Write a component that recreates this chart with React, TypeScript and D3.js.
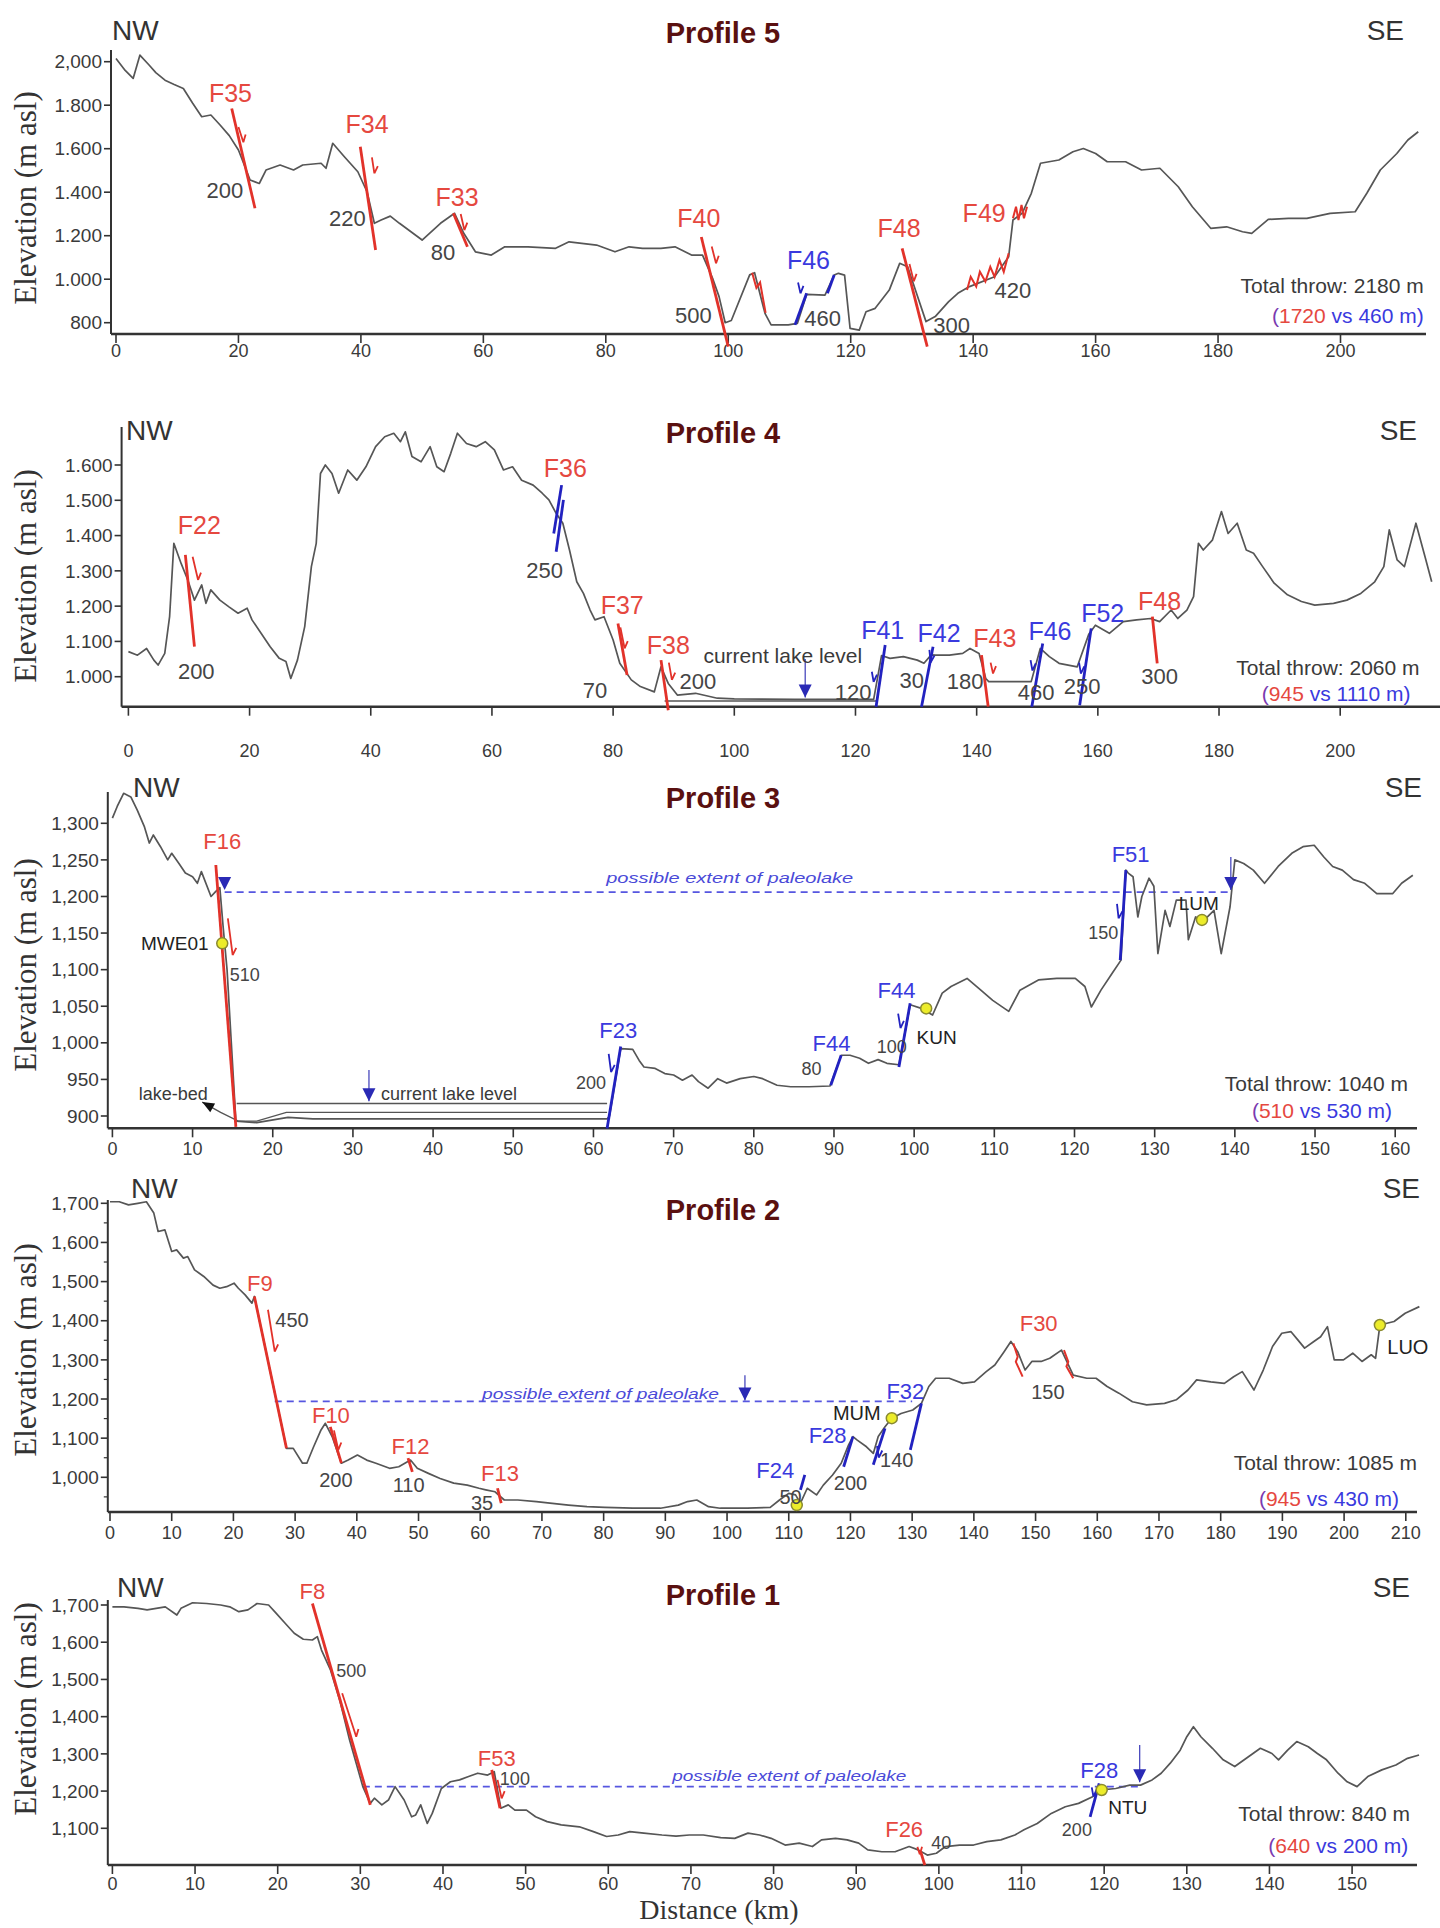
import React from "react";
import * as d3 from "d3";

type Pt = [number, number];
type Fault = { c: "r" | "b"; line?: number[]; zig?: Pt[]; arrow?: number[] };
type Lab = { t: string; d: number; e: number; k: string; a?: "start" | "middle" | "end" };

// ---------------- Profile 5 ----------------
const p5Profile: Pt[] = [
  [0, 2015], [1.5, 1960], [2.8, 1923], [3.9, 2030], [5.4, 1985], [6.5, 1950], [8, 1915], [9.5, 1895], [11, 1877],
  [12.5, 1810], [14, 1747], [15.5, 1755], [17, 1709], [18.5, 1660], [20, 1594], [21.9, 1456], [23.4, 1440],
  [24.5, 1502], [26.8, 1525], [29, 1502], [30.5, 1525], [33.5, 1533], [34.3, 1510], [35.4, 1625], [37.3, 1563],
  [39.5, 1494], [41, 1402], [42.2, 1257], [43.3, 1272], [44.8, 1290], [46.3, 1257], [50, 1180], [53, 1257],
  [55.3, 1303], [56.8, 1211], [58.7, 1126], [61.3, 1111], [63.5, 1149], [67.3, 1149], [71.8, 1142], [74, 1172],
  [78.5, 1157], [81.5, 1126], [83.8, 1149], [86, 1142], [89, 1142], [91.3, 1149], [94, 1111], [95.8, 1111],
  [97.5, 1000], [98.5, 920], [99.5, 800], [100.5, 810], [103.5, 1020], [104.3, 1030], [106, 843], [107, 790],
  [109.8, 790], [111.3, 797], [112.8, 930], [115.8, 927], [117.3, 1019], [118, 1027], [119, 1019], [119.9, 774],
  [121.4, 766], [122.5, 850], [124, 866], [126.3, 950], [128, 1073], [129.3, 1057], [132.3, 805], [133.8, 828],
  [136, 897], [137.5, 935], [139.4, 966], [143.5, 1011], [145.8, 1103], [146.5, 1272], [148, 1303], [149.5, 1395],
  [151, 1533], [154, 1548], [156.3, 1586], [158, 1601], [160, 1578], [161.9, 1540], [164.9, 1540], [167.5, 1502],
  [170.5, 1510], [173.5, 1425], [175.8, 1333], [178.8, 1234], [181.4, 1241], [184, 1218], [185.5, 1211],
  [188.2, 1275], [191.5, 1280], [194.5, 1280], [198.3, 1303], [202.4, 1310], [204.3, 1395], [206.5, 1502],
  [209.2, 1578], [211, 1640], [212.7, 1678],
];
const p5Faults: Fault[] = [
  { c: "r", line: [18.9, 1785, 22.7, 1326], arrow: [20.0, 1700, 20.8, 1630] },
  { c: "r", line: [39.9, 1609, 42.4, 1134], arrow: [41.8, 1560, 42.2, 1487] },
  { c: "r", line: [55.1, 1303, 57.4, 1149], arrow: [56.3, 1300, 56.9, 1226] },
  { c: "r", line: [95.6, 1194, 100, 690], arrow: [97.3, 1150, 98, 1073] },
  { c: "r", zig: [[103.9, 1030], [104.6, 960], [105.2, 985], [106.1, 845]] },
  { c: "b", line: [110.9, 790, 112.8, 935], arrow: [111.4, 985, 111.8, 935] },
  { c: "b", line: [116.2, 935, 117.3, 1019] },
  { c: "r", line: [128.4, 1142, 132.5, 690], arrow: [129.6, 1070, 130.3, 990] },
  { c: "r", zig: [[139.0, 950], [139.6, 1011], [140.5, 966], [141.1, 1034], [142, 989], [142.8, 1057], [143.5, 1011], [144.3, 1088], [145, 1034], [145.8, 1119]] },
  { c: "r", zig: [[146.5, 1280], [147, 1333], [147.4, 1272], [147.9, 1341], [148.3, 1280], [148.8, 1333]] },
];
const p5Labels: Lab[] = [
  { t: "F35", d: 18.7, e: 1857, k: "fr" }, { t: "200", d: 17.8, e: 1410, k: "n" },
  { t: "F34", d: 41, e: 1713, k: "fr" }, { t: "220", d: 37.8, e: 1280, k: "n" },
  { t: "F33", d: 55.7, e: 1376, k: "fr" }, { t: "80", d: 53.4, e: 1123, k: "n" },
  { t: "F40", d: 95.2, e: 1280, k: "fr" }, { t: "500", d: 94.3, e: 835, k: "n" },
  { t: "F46", d: 113.1, e: 1088, k: "fb" }, { t: "460", d: 115.4, e: 820, k: "n" },
  { t: "F48", d: 127.9, e: 1234, k: "fr" }, { t: "300", d: 136.5, e: 789, k: "n" },
  { t: "F49", d: 141.8, e: 1303, k: "fr" }, { t: "420", d: 146.5, e: 950, k: "n" },
];
const p5Throw = ["2180", "1720", "460"];
const p5XTicks = [0, 20, 40, 60, 80, 100, 120, 140, 160, 180, 200];
const p5YTicks = [800, 1000, 1200, 1400, 1600, 1800, 2000];
const p5YTickLabels = ["800", "1.000", "1.200", "1.400", "1.600", "1.800", "2,000"];

// ---------------- Profile 4 ----------------
const p4Profile: Pt[] = [
  [0, 1071], [1.5, 1061], [3, 1080], [4.2, 1047], [4.9, 1033], [6, 1066], [6.8, 1170], [7.5, 1378], [8.7, 1321],
  [9.8, 1274], [10.9, 1217], [12.1, 1260], [12.8, 1208], [13.6, 1246], [15.1, 1217], [16.6, 1198], [18.1, 1180],
  [19.6, 1194], [20.4, 1161], [21.9, 1123], [23.4, 1085], [24.9, 1052], [26, 1043], [26.8, 995], [27.9, 1047],
  [29.1, 1142], [30.2, 1312], [31, 1378], [31.7, 1576], [32.5, 1600], [33.6, 1576], [34.7, 1520], [36.2, 1586],
  [37.7, 1557], [39.2, 1595], [40.8, 1652], [42.3, 1680], [43.8, 1690], [44.9, 1666], [45.7, 1694], [46.8, 1624],
  [48.3, 1609], [49.8, 1652], [50.9, 1595], [52.1, 1581], [53.2, 1633], [54.3, 1690], [55.8, 1661], [57.4, 1652],
  [58.9, 1666], [60.4, 1643], [61.9, 1586], [63.4, 1595], [64.9, 1557], [66.8, 1543], [68.3, 1520], [69.4, 1501],
  [70.6, 1463], [71.7, 1435], [72.8, 1359], [74, 1269], [75.1, 1236], [76.2, 1189], [77, 1161], [78.5, 1170],
  [80, 1104], [81.1, 1038], [83, 991], [84.5, 972], [86.8, 957], [87.9, 1028], [89.1, 981], [90.6, 948],
  [93.6, 953], [97.2, 939], [100, 937], [110, 936], [123, 936], [124.3, 1060], [125.7, 1052], [127.9, 1057],
  [130.2, 1047], [131.3, 1038], [132.5, 1062], [133.2, 1061], [135.5, 1061], [137.7, 1066], [138.9, 1080],
  [140.4, 1066], [141.5, 995], [142, 986], [149, 986], [150.5, 1080], [152, 1057], [153.6, 1038], [156.6, 1028],
  [158.5, 1120], [159.6, 1146], [161.9, 1123], [164.2, 1156], [166.4, 1161], [168.7, 1165], [170.2, 1156],
  [172.1, 1189], [173.2, 1165], [174.7, 1189], [175.8, 1227], [176.6, 1378], [177.4, 1359], [178.9, 1387],
  [180.4, 1468], [181.5, 1406], [183, 1435], [184.5, 1359], [185.7, 1350], [187.2, 1312], [189.1, 1265],
  [191.3, 1232], [193.6, 1213], [195.8, 1203], [198.9, 1208], [201.1, 1217], [203.4, 1236], [205.7, 1269],
  [207.2, 1312], [208.1, 1416], [209.4, 1331], [210.6, 1312], [212.5, 1435], [214, 1340], [215.1, 1269],
];
const p4Faults: Fault[] = [
  { c: "r", line: [9.4, 1345, 10.9, 1085], arrow: [10.6, 1340, 11.5, 1274] },
  { c: "b", line: [70.2, 1406, 71.5, 1543] },
  { c: "b", line: [70.6, 1354, 71.8, 1501] },
  { c: "r", line: [80.8, 1151, 82.3, 1005], arrow: [81.2, 1140, 81.9, 1080] },
  { c: "r", line: [87.9, 1047, 89.1, 905], arrow: [89.2, 1040, 89.7, 991] },
  { c: "b", line: [123.4, 915, 124.9, 1090], arrow: [122.7, 1014, 123.0, 985] },
  { c: "b", line: [130.9, 915, 132.8, 1085], arrow: [132.2, 1076, 132.4, 1040] },
  { c: "r", line: [140.8, 1061, 141.9, 915], arrow: [142.3, 1040, 142.7, 1009] },
  { c: "b", line: [149.1, 915, 150.9, 1094], arrow: [148.9, 1047, 149.2, 1017] },
  { c: "b", line: [157, 919, 158.9, 1137], arrow: [156.9, 1040, 157.2, 1009] },
  { c: "r", line: [169, 1170, 169.8, 1038] },
];
const p4Labels: Lab[] = [
  { t: "F22", d: 11.7, e: 1430, k: "fr" }, { t: "200", d: 11.2, e: 1014, k: "n" },
  { t: "F36", d: 72.1, e: 1590, k: "fr" }, { t: "250", d: 68.7, e: 1302, k: "n" },
  { t: "F37", d: 81.5, e: 1203, k: "fr" }, { t: "70", d: 77, e: 962, k: "n" },
  { t: "F38", d: 89.1, e: 1090, k: "fr" }, { t: "200", d: 94, e: 986, k: "n" },
  { t: "F41", d: 124.5, e: 1132, k: "fb" }, { t: "120", d: 119.6, e: 957, k: "n" },
  { t: "F42", d: 133.8, e: 1123, k: "fb" }, { t: "30", d: 129.3, e: 991, k: "n" },
  { t: "F43", d: 143, e: 1109, k: "fr" }, { t: "180", d: 138.1, e: 986, k: "n" },
  { t: "F46", d: 152.1, e: 1128, k: "fb" }, { t: "460", d: 149.8, e: 957, k: "n" },
  { t: "F52", d: 160.8, e: 1180, k: "fb" }, { t: "250", d: 157.4, e: 972, k: "n" },
  { t: "F48", d: 170.2, e: 1213, k: "fr" }, { t: "300", d: 170.2, e: 1000, k: "n" },
  { t: "current lake level", d: 108, e: 1061, k: "g" },
];
const p4Throw = ["2060", "945", "1110"];
const p4XTicks = [0, 20, 40, 60, 80, 100, 120, 140, 160, 180, 200];
const p4YTicks = [1000, 1100, 1200, 1300, 1400, 1500, 1600];
const p4YTickLabels = ["1.000", "1.100", "1.200", "1.300", "1.400", "1.500", "1.600"];

// ---------------- Profile 3 ----------------
const p3Profile: Pt[] = [
  [0, 1307], [0.6, 1323], [1.4, 1341], [2.3, 1336], [3.1, 1318], [4, 1295], [4.6, 1273], [5.1, 1284], [6, 1268],
  [6.9, 1250], [7.4, 1259], [8.3, 1245], [9.1, 1232], [10, 1227], [10.6, 1218], [11.1, 1234], [12.3, 1200],
  [12.9, 1207], [13.4, 1212], [13.8, 1160], [14.3, 1100], [15.4, 893], [18, 891], [21.9, 898], [25, 896],
  [61.7, 896], [62, 900], [63.4, 992], [64.9, 991], [65.7, 976], [66.3, 967], [67.7, 965], [68.9, 958], [70, 956],
  [71.1, 949], [72.3, 956], [73.1, 947], [74.3, 938], [75.5, 951], [76.6, 945], [78.3, 951], [80, 954],
  [81.1, 951], [82.9, 942], [84.6, 940], [86.9, 940], [89.5, 941], [90.9, 983], [92, 983], [93.2, 979],
  [94.3, 972], [95.5, 977], [96.6, 972], [98.1, 970], [99.5, 1052], [100.9, 1047], [102.3, 1038], [103.5, 1068],
  [104.6, 1077], [106.6, 1088], [108.1, 1074], [109.8, 1058], [111.8, 1043], [113.2, 1072], [115.5, 1086],
  [117.8, 1088], [120.1, 1088], [121.3, 1077], [122.1, 1049], [123.3, 1072], [124.7, 1095], [125.8, 1113],
  [126.4, 1236], [126.7, 1232], [127.3, 1227], [127.9, 1172], [128.4, 1200], [129.3, 1225], [129.9, 1214],
  [130.4, 1122], [131.3, 1181], [131.9, 1159], [132.7, 1195], [133.9, 1195], [134.2, 1141], [135.1, 1172],
  [136.2, 1168], [137.4, 1181], [138.3, 1122], [139.4, 1186], [140, 1250], [141.1, 1245], [142.3, 1236],
  [143.7, 1218], [145.4, 1241], [147.1, 1259], [148.5, 1268], [149.9, 1270], [151.1, 1254], [152.2, 1241],
  [153.4, 1236], [154.8, 1223], [156.2, 1218], [157.7, 1204], [159.7, 1204], [160.8, 1218], [162.2, 1229],
];
const p3Faults: Fault[] = [
  { c: "r", line: [12.9, 1243, 15.4, 885], arrow: [14.4, 1170, 15.0, 1120] },
  { c: "b", line: [61.7, 883, 63.4, 995], arrow: [61.9, 985, 62.2, 960] },
  { c: "b", line: [89.6, 942, 90.9, 983] },
  { c: "b", line: [98.1, 967, 99.5, 1054], arrow: [98.0, 1040, 98.3, 1020] },
  { c: "b", line: [125.7, 1113, 126.4, 1236], arrow: [125.3, 1190, 125.5, 1170] },
];
const p3Labels: Lab[] = [
  { t: "F16", d: 13.7, e: 1275, k: "fr" }, { t: "510", d: 16.5, e: 1093, k: "n" },
  { t: "F23", d: 63.1, e: 1017, k: "fb" }, { t: "200", d: 59.7, e: 945, k: "n" },
  { t: "F44", d: 89.7, e: 999, k: "fb" }, { t: "80", d: 87.2, e: 965, k: "n" },
  { t: "F44", d: 97.8, e: 1072, k: "fb" }, { t: "100", d: 97.2, e: 995, k: "n" },
  { t: "F51", d: 127, e: 1257, k: "fb" }, { t: "150", d: 123.6, e: 1150, k: "n" },
  { t: "MWE01", d: 12.0, e: 1136, k: "s", a: "end" },
  { t: "KUN", d: 100.3, e: 1008, k: "s", a: "start" },
  { t: "LUM", d: 133, e: 1191, k: "s", a: "start" },
  { t: "lake-bed", d: 7.6, e: 931, k: "g" },
  { t: "current lake level", d: 33.5, e: 931, k: "g", a: "start" },
  { t: "possible extent of paleolake", d: 77, e: 1224.8, k: "pl" },
];
const p3Throw = ["1040", "510", "530"];
const p3XTicks = [0, 10, 20, 30, 40, 50, 60, 70, 80, 90, 100, 110, 120, 130, 140, 150, 160];
const p3YTicks = [900, 950, 1000, 1050, 1100, 1150, 1200, 1250, 1300];
const p3YTickLabels = ["900", "950", "1,000", "1,050", "1,100", "1,150", "1,200", "1,250", "1,300"];
const p3Circles: Pt[] = [[13.7, 1136], [101.5, 1047], [135.9, 1168]];
const p3Triangles: Pt[] = [[14, 1209], [139.5, 1209], [32, 920]];
const p3Stems: number[][] = [[32, 963, 920], [139.5, 1254, 1209]];
const p3LakeLines: Pt[][] = [[[15.5, 917], [61.7, 917]]];
const p3LakeBed: Pt[] = [[11.2, 919], [13.5, 905], [15.7, 893], [18, 893], [21.7, 905], [61.7, 905]];

// ---------------- Profile 2 ----------------
const p2Profile: Pt[] = [
  [0, 1704], [1.5, 1704], [3, 1696], [4.5, 1700], [5.9, 1704], [7.1, 1675], [7.8, 1628], [8.9, 1632], [10, 1577],
  [10.8, 1581], [11.9, 1560], [12.6, 1564], [13.7, 1530], [15.2, 1513], [16.7, 1491], [17.8, 1483], [18.9, 1487],
  [20.1, 1496], [20.8, 1483], [21.9, 1466], [23, 1445], [23.4, 1462], [28.6, 1074], [29.7, 1074], [31.2, 1036],
  [31.9, 1036], [33, 1078], [34.2, 1121], [34.9, 1138], [36, 1104], [37.5, 1036], [38.6, 1044], [40.1, 1057],
  [41.6, 1044], [43.1, 1036], [45.3, 1023], [46.8, 1027], [48.7, 1044], [49.8, 1023], [51.6, 1010], [53.5, 997],
  [55.7, 985], [57.9, 980], [59.8, 972], [60.9, 968], [62.4, 963], [63.9, 942], [66.1, 942], [69.1, 938],
  [71.3, 934], [74.3, 929], [77.3, 925], [80.2, 923], [84.7, 921], [89.2, 921], [92.1, 929], [93.6, 938],
  [95.1, 942], [97, 925], [98.9, 921], [103.3, 921], [107, 923], [108.5, 942], [110, 959], [111.1, 955],
  [111.9, 934], [113, 972], [114.5, 955], [115.6, 980], [117.1, 1006], [118.5, 1036], [119.7, 1083],
  [120.4, 1104], [121.1, 1095], [122.6, 1078], [123.7, 1061], [124.5, 1104], [125.6, 1129], [126.7, 1151],
  [128.2, 1163], [130.1, 1172], [131.5, 1189], [132.7, 1232], [133.8, 1253], [136, 1253], [138.2, 1240],
  [140.1, 1244], [142, 1270], [143.4, 1287], [144.9, 1321], [146, 1347], [147.1, 1321], [148.3, 1274],
  [149.4, 1296], [150.9, 1296], [152.3, 1304], [154.2, 1325], [156.1, 1261], [158.3, 1253], [159.8, 1253],
  [161.6, 1232], [163.5, 1215], [165.7, 1193], [168, 1185], [170.9, 1189], [172.8, 1198], [174.7, 1223],
  [176.1, 1249], [178.4, 1244], [180.6, 1240], [182.1, 1257], [183.5, 1270], [185.4, 1223], [186.9, 1274],
  [188.4, 1334], [189.9, 1368], [191.4, 1372], [192.5, 1351], [193.6, 1330], [195.1, 1347], [196.2, 1359],
  [197.3, 1385], [198.4, 1300], [199.9, 1300], [201.4, 1317], [202.9, 1296], [204.4, 1313], [205.1, 1304],
  [205.8, 1389], [208.1, 1398], [209.9, 1419], [212.2, 1436],
];
const p2Faults: Fault[] = [
  { c: "r", line: [23.4, 1462, 28.6, 1074], arrow: [25.6, 1428, 26.7, 1321] },
  { c: "r", line: [35.7, 1129, 37.5, 1036], arrow: [36.3, 1120, 37, 1070] },
  { c: "r", line: [48.3, 1049, 49, 1014] },
  { c: "r", line: [62.8, 972, 63.4, 934] },
  { c: "b", line: [111.9, 968, 112.6, 1006] },
  { c: "b", line: [118.9, 1027, 120.4, 1104] },
  { c: "b", line: [123.7, 1032, 125.6, 1125], arrow: [124.3, 1080, 124.6, 1050] },
  { c: "b", line: [129.7, 1070, 131.5, 1189] },
  { c: "r", zig: [[146.4, 1342], [147.1, 1308], [146.8, 1295], [147.9, 1257]] },
  { c: "r", zig: [[154.6, 1325], [155.3, 1295], [155, 1283], [156.1, 1253]] },
];
const p2Labels: Lab[] = [
  { t: "F9", d: 24.3, e: 1496, k: "fr" }, { t: "450", d: 29.5, e: 1402, k: "n" },
  { t: "F10", d: 35.8, e: 1159, k: "fr" }, { t: "200", d: 36.6, e: 993, k: "n" },
  { t: "F12", d: 48.7, e: 1078, k: "fr" }, { t: "110", d: 48.4, e: 980, k: "n" },
  { t: "F13", d: 63.2, e: 1010, k: "fr" }, { t: "35", d: 60.3, e: 934, k: "n" },
  { t: "F24", d: 107.8, e: 1019, k: "fb" }, { t: "50", d: 110.3, e: 950, k: "n" },
  { t: "F28", d: 116.3, e: 1108, k: "fb" }, { t: "200", d: 120, e: 985, k: "n" },
  { t: "140", d: 127.5, e: 1044, k: "n" },
  { t: "F32", d: 128.9, e: 1219, k: "fb" },
  { t: "F30", d: 150.5, e: 1393, k: "fr" }, { t: "150", d: 152, e: 1219, k: "n" },
  { t: "MUM", d: 124.9, e: 1164, k: "s", a: "end" },
  { t: "LUO", d: 207, e: 1333, k: "s", a: "start" },
  { t: "possible extent of paleolake", d: 79.5, e: 1213, k: "pl" },
];
const p2Throw = ["1085", "945", "430"];
const p2XTicks = [0, 10, 20, 30, 40, 50, 60, 70, 80, 90, 100, 110, 120, 130, 140, 150, 160, 170, 180, 190, 200, 210];
const p2YTicks = [1000, 1100, 1200, 1300, 1400, 1500, 1600, 1700];
const p2YTickLabels = ["1,000", "1,100", "1,200", "1,300", "1,400", "1,500", "1,600", "1,700"];
const p2YMinor = [950, 1050, 1150, 1250, 1350, 1450, 1550, 1650];
const p2Circles: Pt[] = [[111.3, 929], [126.7, 1151], [205.8, 1389]];
const p2Triangles: Pt[] = [[102.9, 1196]];
const p2Stems: number[][] = [[102.9, 1261, 1196]];

// ---------------- Profile 1 ----------------
const p1Profile: Pt[] = [
  [0, 1695], [1.4, 1695], [3.1, 1691], [4.2, 1687], [5.3, 1691], [6.4, 1695], [7.8, 1673], [8.3, 1691],
  [9.7, 1706], [11.4, 1704], [13.1, 1700], [14.2, 1695], [15.3, 1682], [16.4, 1687], [17.5, 1704], [18.9, 1700],
  [19.8, 1678], [20.9, 1651], [22, 1624], [23.1, 1608], [24.2, 1606], [24.8, 1615], [25.3, 1579], [26.4, 1525],
  [27.5, 1445], [28.7, 1337], [29.5, 1275], [30.3, 1212], [31.2, 1167], [31.7, 1181], [32.6, 1163], [33.4, 1176],
  [34.2, 1212], [35.3, 1176], [36.2, 1131], [36.7, 1136], [37.3, 1163], [38.1, 1113], [38.7, 1140], [39.8, 1207],
  [40.9, 1225], [42, 1230], [43.1, 1239], [44.2, 1248], [45.4, 1243], [46.2, 1252], [47, 1154], [47.9, 1163],
  [48.7, 1149], [50.1, 1149], [51.2, 1131], [52.6, 1118], [54.3, 1109], [56.5, 1104], [58.2, 1091], [59.8, 1078],
  [61.2, 1082], [62.6, 1091], [64.3, 1087], [66.5, 1082], [68.2, 1079], [69.8, 1082], [71.5, 1082], [73.6, 1075],
  [75.3, 1073], [76.9, 1087], [78.3, 1082], [79.7, 1073], [81.4, 1055], [83.1, 1060], [84.7, 1051], [85.8, 1069],
  [87.5, 1073], [88.9, 1069], [90.3, 1060], [91.4, 1042], [93.1, 1037], [94.7, 1037], [96.4, 1051], [97.5, 1042],
  [98.6, 1028], [99.7, 1033], [100.8, 1051], [102.5, 1055], [104.2, 1055], [105.8, 1064], [107.5, 1069],
  [109.2, 1082], [110.3, 1096], [111.9, 1113], [113.6, 1140], [115.3, 1158], [116.9, 1167], [118.6, 1185],
  [119.7, 1203], [121.4, 1207], [123.1, 1216], [124.4, 1216], [125.8, 1230], [126.9, 1248], [128, 1275],
  [129.2, 1310], [130, 1346], [130.8, 1373], [131.7, 1346], [133.1, 1315], [134.4, 1284], [135.8, 1266],
  [137.5, 1293], [138.9, 1315], [140.3, 1301], [141.1, 1284], [142.2, 1310], [143.3, 1333], [144.7, 1319],
  [145.8, 1301], [146.9, 1284], [148.3, 1248], [149.4, 1225], [150.6, 1212], [151.9, 1239], [153.6, 1257],
  [155.3, 1270], [156.7, 1288], [158.1, 1297],
];
const p1Faults: Fault[] = [
  { c: "r", line: [24.2, 1704, 31.2, 1163], arrow: [27.8, 1463, 29.5, 1346] },
  { c: "r", line: [45.9, 1257, 46.9, 1154], arrow: [46.6, 1230, 47.1, 1180] },
  { c: "r", line: [97.8, 1037, 98.3, 1001], arrow: [97.4, 1050, 97.7, 1030] },
  { c: "b", line: [118.3, 1131, 119.4, 1221], arrow: [118.5, 1210, 118.7, 1185] },
];
const p1Labels: Lab[] = [
  { t: "F8", d: 24.2, e: 1738, k: "fr" }, { t: "500", d: 28.9, e: 1524, k: "n" },
  { t: "F53", d: 46.5, e: 1288, k: "fr" }, { t: "100", d: 48.7, e: 1234, k: "n" },
  { t: "F26", d: 95.8, e: 1096, k: "fr" }, { t: "40", d: 100.3, e: 1060, k: "n" },
  { t: "F28", d: 119.4, e: 1257, k: "fb" }, { t: "200", d: 116.7, e: 1096, k: "n" },
  { t: "NTU", d: 120.5, e: 1155, k: "s", a: "start" },
  { t: "possible extent of paleolake", d: 81.9, e: 1240.5, k: "pl" },
];
const p1Throw = ["840", "640", "200"];
const p1XTicks = [0, 10, 20, 30, 40, 50, 60, 70, 80, 90, 100, 110, 120, 130, 140, 150];
const p1YTicks = [1100, 1200, 1300, 1400, 1500, 1600, 1700];
const p1YTickLabels = ["1,100", "1,200", "1,300", "1,400", "1,500", "1,600", "1,700"];
const p1Circles: Pt[] = [[119.7, 1203]];
const p1Triangles: Pt[] = [[124.3, 1224]];
const p1Stems: number[][] = [[124.3, 1324, 1224]];

// ---------------- styling & layout ----------------
const SANS = "'Liberation Sans', Arial, Helvetica, sans-serif";
const SERIF = "'Liberation Serif', 'Times New Roman', serif";
const RED = "#e2322a";
const BLUE = "#2222c0";
const LRED = "#e5483f";
const LBLUE = "#3a3ade";
const AX = "#333";
const TXT = "#3a3a3a";

const panels = [
  {
    title: "Profile 5", profile: p5Profile, faults: p5Faults, labels: p5Labels, thr: p5Throw,
    xTicks: p5XTicks, yTicks: p5YTicks, yTickLabels: p5YTickLabels,
    xDomain: [0, 200], xRange: [116, 1340.5], yDomain: [800, 2000], yRange: [322.7, 61.7],
    axisX: 111, axisY: 334, axisTop: 50, axisRight: 1426, xLabY: 357, titleY: 43,
    nw: [112, 40], se: [1404, 40], yTitleY: 198, fSize: 25, nSize: 22, sSize: 19, gSize: 20,
    thrPos: [213.6, 936.5, 213.6, 798.6], plW: 0,
  },
  {
    title: "Profile 4", profile: p4Profile, faults: p4Faults, labels: p4Labels, thr: p4Throw,
    xTicks: p4XTicks, yTicks: p4YTicks, yTickLabels: p4YTickLabels,
    xDomain: [0, 200], xRange: [128.4, 1340.2], yDomain: [1000, 1600], yRange: [676.7, 465],
    axisX: 121.6, axisY: 706.7, axisTop: 427, axisRight: 1440, xLabY: 757, titleY: 443,
    nw: [126, 440], se: [1417, 440], yTitleY: 576, fSize: 25, nSize: 22, sSize: 19, gSize: 21,
    thrPos: [213.1, 1006.2, 211.6, 931], plW: 0,
    lakeLines: [[[88.5, 931], [123.4, 931]]] as Pt[][],
    triangles: [[111.7, 941]] as Pt[], stems: [[111.7, 1050, 941]],
  },
  {
    title: "Profile 3", profile: p3Profile, faults: p3Faults, labels: p3Labels, thr: p3Throw,
    xTicks: p3XTicks, yTicks: p3YTicks, yTickLabels: p3YTickLabels,
    xDomain: [0, 160], xRange: [112.4, 1395.2], yDomain: [900, 1300], yRange: [1116, 823.3],
    axisX: 107.8, axisY: 1128.3, axisTop: 792, axisRight: 1417, xLabY: 1155, titleY: 808,
    nw: [133, 797], se: [1422, 797], yTitleY: 965, fSize: 22, nSize: 18, sSize: 19, gSize: 18,
    thrPos: [161.6, 934, 159.6, 897.3], plW: 247,
    circles: p3Circles, triangles: p3Triangles, stems: p3Stems, lakeLines: p3LakeLines, lakeBed: p3LakeBed,
    dash: [14, 139.5, 1206],
  },
  {
    title: "Profile 2", profile: p2Profile, faults: p2Faults, labels: p2Labels, thr: p2Throw,
    xTicks: p2XTicks, yTicks: p2YTicks, yTickLabels: p2YTickLabels, yMinor: p2YMinor,
    xDomain: [0, 210], xRange: [110, 1405.8], yDomain: [1000, 1700], yRange: [1477.3, 1203.3],
    axisX: 107.8, axisY: 1512, axisTop: 1200, axisRight: 1417, xLabY: 1539, titleY: 1220,
    nw: [131, 1198], se: [1420, 1198], yTitleY: 1350, fSize: 22, nSize: 20, sSize: 20, gSize: 18,
    thrPos: [211.8, 1019.9, 208.9, 926.7], plW: 237,
    circles: p2Circles, triangles: p2Triangles, stems: p2Stems, dash: [26.7, 130, 1194],
  },
  {
    title: "Profile 1", profile: p1Profile, faults: p1Faults, labels: p1Labels, thr: p1Throw,
    xTicks: p1XTicks, yTicks: p1YTicks, yTickLabels: p1YTickLabels,
    xDomain: [0, 150], xRange: [112.4, 1352.1], yDomain: [1100, 1700], yRange: [1828.3, 1605],
    axisX: 107.8, axisY: 1865, axisTop: 1600, axisRight: 1417, xLabY: 1890, titleY: 1605,
    nw: [117, 1597], se: [1410, 1597], yTitleY: 1709, fSize: 22, nSize: 18, sSize: 19, gSize: 18,
    thrPos: [157, 1119.6, 156.8, 1033], plW: 234,
    circles: p1Circles, triangles: p1Triangles, stems: p1Stems, dash: [30.3, 124.4, 1212],
  },
];

function Panel({ L }: { L: any }) {
  const x = d3.scaleLinear().domain(L.xDomain).range(L.xRange);
  const y = d3.scaleLinear().domain(L.yDomain).range(L.yRange);
  const line = d3.line<Pt>().x((p) => x(p[0])).y((p) => y(p[1]));

  const halfArrow = (a: number[], col: string, key: string) => {
    const x1 = x(a[0]), y1 = y(a[1]), x2 = x(a[2]), y2 = y(a[3]);
    const len = Math.hypot(x2 - x1, y2 - y1) || 1;
    const ux = (x1 - x2) / len, uy = (y1 - y2) / len;
    const ang = 0.6;
    const bx = x2 + 8 * (ux * Math.cos(ang) - uy * Math.sin(ang));
    const by = y2 + 8 * (ux * Math.sin(ang) + uy * Math.cos(ang));
    return (
      <path key={key} d={`M${x1},${y1}L${x2},${y2}M${x2},${y2}L${bx},${by}`} stroke={col} strokeWidth={1.8} fill="none" />
    );
  };

  const labelStyle = (k: string) => {
    switch (k) {
      case "fr": return { fill: LRED, fontSize: L.fSize };
      case "fb": return { fill: LBLUE, fontSize: L.fSize };
      case "n": return { fill: "#454545", fontSize: L.nSize };
      case "s": return { fill: "#222", fontSize: L.sSize };
      case "pl": return { fill: "#4a4ad8", fontSize: 14 };
      default: return { fill: TXT, fontSize: L.gSize };
    }
  };

  const tri = (p: Pt, key: string) => {
    const tx = x(p[0]), ty = y(p[1]);
    return <path key={key} d={`M${tx},${ty}L${tx - 6.5},${ty - 13}L${tx + 6.5},${ty - 13}Z`} fill="#2a2ab5" />;
  };

  return (
    <g>
      <text x={723} y={L.titleY} textAnchor="middle" fontFamily={SANS} fontWeight="bold" fontSize={29} fill="#5a1010">{L.title}</text>
      <text x={L.nw[0]} y={L.nw[1]} fontFamily={SANS} fontSize={28} fill="#333">NW</text>
      <text x={L.se[0]} y={L.se[1]} textAnchor="end" fontFamily={SANS} fontSize={28} fill="#333">SE</text>
      <text transform={`translate(36,${L.yTitleY}) rotate(-90)`} textAnchor="middle" fontFamily={SERIF} fontSize={31} fill="#333">Elevation (m asl)</text>

      <line x1={L.axisX} x2={L.axisX} y1={L.axisTop} y2={L.axisY} stroke={AX} strokeWidth={2} />
      <line x1={L.axisX} x2={L.axisRight} y1={L.axisY} y2={L.axisY} stroke={AX} strokeWidth={2.4} />
      {L.xTicks.map((t: number) => (
        <g key={"xt" + t}>
          <line x1={x(t)} x2={x(t)} y1={L.axisY} y2={L.axisY + 9} stroke={AX} strokeWidth={1.6} />
          <text x={x(t)} y={L.xLabY} textAnchor="middle" fontFamily={SANS} fontSize={18} fill={TXT}>{t}</text>
        </g>
      ))}
      {L.yTicks.map((t: number, i: number) => (
        <g key={"yt" + t}>
          <line x1={L.axisX - 7} x2={L.axisX} y1={y(t)} y2={y(t)} stroke={AX} strokeWidth={1.6} />
          <text x={L.axisX - 9} y={y(t)} dy="0.35em" textAnchor="end" fontFamily={SANS} fontSize={19} fill={TXT}>{L.yTickLabels[i]}</text>
        </g>
      ))}
      {(L.yMinor || []).map((t: number) => (
        <line key={"ym" + t} x1={L.axisX - 4} x2={L.axisX} y1={y(t)} y2={y(t)} stroke={AX} strokeWidth={1.2} />
      ))}

      {L.dash && (
        <line x1={x(L.dash[0])} x2={x(L.dash[1])} y1={y(L.dash[2])} y2={y(L.dash[2])} stroke="#5656e0" strokeWidth={1.6} strokeDasharray="7 5" />
      )}
      {(L.lakeLines || []).map((ln: Pt[], i: number) => (
        <path key={"ll" + i} d={line(ln) || ""} stroke="#555" strokeWidth={1.4} fill="none" />
      ))}
      {L.lakeBed && (() => {
        const p0 = L.lakeBed[0], p1 = L.lakeBed[1];
        const x0 = x(p0[0]), y0 = y(p0[1]), x1 = x(p1[0]), y1 = y(p1[1]);
        const len = Math.hypot(x0 - x1, y0 - y1) || 1;
        const ux = (x0 - x1) / len, uy = (y0 - y1) / len;
        const bx = x0 - ux * 12, by = y0 - uy * 12;
        return (
          <g>
            <path d={line(L.lakeBed) || ""} stroke="#555" strokeWidth={1.4} fill="none" />
            <path d={`M${x0},${y0}L${bx - uy * 5},${by + ux * 5}L${bx + uy * 5},${by - ux * 5}Z`} fill="#111" />
          </g>
        );
      })()}

      <path d={line(L.profile) || ""} stroke="#565656" strokeWidth={1.7} fill="none" strokeLinejoin="round" />

      {L.faults.map((f: Fault, i: number) => {
        const col = f.c === "r" ? RED : BLUE;
        return (
          <g key={"f" + i}>
            {f.line && (
              <line x1={x(f.line[0])} y1={y(f.line[1])} x2={x(f.line[2])} y2={y(f.line[3])} stroke={col} strokeWidth={2.8} />
            )}
            {f.zig && <path d={line(f.zig) || ""} stroke={col} strokeWidth={2} fill="none" />}
            {f.arrow && halfArrow(f.arrow, col, "a" + i)}
          </g>
        );
      })}

      {(L.stems || []).map((s: number[], i: number) => (
        <line key={"st" + i} x1={x(s[0])} x2={x(s[0])} y1={y(s[1])} y2={y(s[2])} stroke="#3a3ab8" strokeWidth={1.2} />
      ))}
      {(L.triangles || []).map((p: Pt, i: number) => tri(p, "tr" + i))}
      {(L.circles || []).map((p: Pt, i: number) => (
        <circle key={"c" + i} cx={x(p[0])} cy={y(p[1])} r={5.5} fill="#ecec2a" stroke="#8a8a30" strokeWidth={1.5} />
      ))}

      {L.labels.map((lb: Lab, i: number) => {
        const st = labelStyle(lb.k);
        const extra = lb.k === "pl" ? { textLength: L.plW, lengthAdjust: "spacingAndGlyphs", fontStyle: "italic" } : {};
        return (
          <text key={"l" + i} x={x(lb.d)} y={y(lb.e)} dy="0.35em" textAnchor={lb.a || "middle"} fontFamily={SANS} {...st} {...extra}>
            {lb.t}
          </text>
        );
      })}

      <text x={x(L.thrPos[0])} y={y(L.thrPos[1])} textAnchor="end" fontFamily={SANS} fontSize={21} fill={TXT}>
        {`Total throw: ${L.thr[0]} m`}
      </text>
      <text x={x(L.thrPos[2])} y={y(L.thrPos[3])} textAnchor="end" fontFamily={SANS} fontSize={21} fill={LBLUE}>
        <tspan fill="#7a3ab0">(</tspan>
        <tspan fill={LRED}>{L.thr[1]}</tspan>
        <tspan fill={LBLUE}>{` vs ${L.thr[2]} m)`}</tspan>
      </text>
    </g>
  );
}

export default function App() {
  return (
    <svg width={1440} height={1928} viewBox="0 0 1440 1928" style={{ position: "absolute", left: 0, top: 0, background: "#fff" }}>
      <rect x={0} y={0} width={1440} height={1928} fill="#fff" />
      {panels.map((L, i) => (
        <Panel key={i} L={L} />
      ))}
      <text x={719} y={1919} textAnchor="middle" fontFamily={SERIF} fontSize={28} fill="#333">Distance (km)</text>
    </svg>
  );
}
